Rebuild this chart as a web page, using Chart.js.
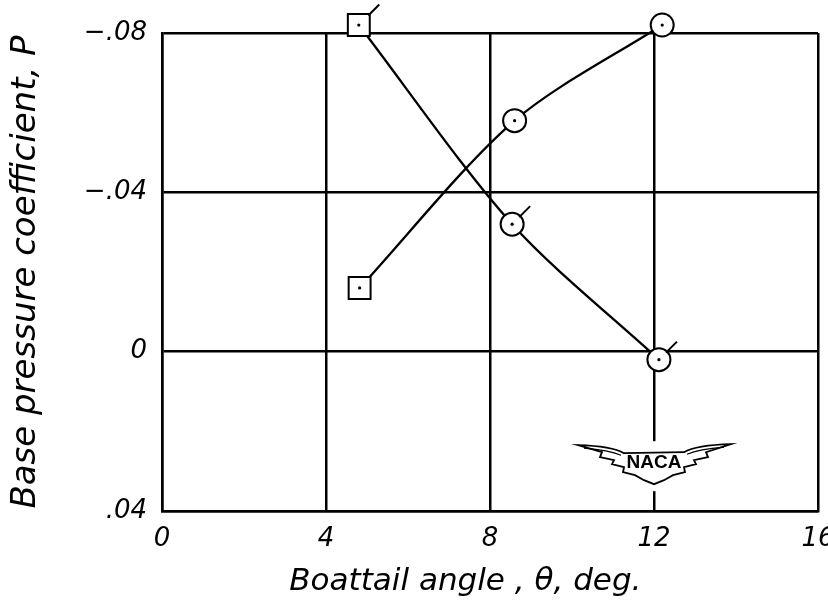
<!DOCTYPE html>
<html>
<head>
<meta charset="utf-8">
<script src="https://cdn.jsdelivr.net/npm/chart.js@4"></script>
<style>
    html, body { margin: 0; padding: 0; background: #ffffff; }
    #chartBox { width: 828px; height: 602px; }
</style>
</head>
<body>
<div id="chartBox"><canvas id="baseChart" width="828" height="602"></canvas></div>
<script>
// Data
const xTickValues = [0, 4, 8, 12, 16];
const yTickValues = [-0.08, -0.04, 0, 0.04];
const yTickLabels = ['\u2212.08', '\u2212.04', '0', '.04'];

// Flagged symbols (square, then circles)
const flaggedAngle = [4.8, 8.54, 12.12];
const flaggedP = [-0.082, -0.032, 0.002];

// Plain symbols
const plainAngle = [4.82, 8.6, 12.2];
const plainP = [-0.016, -0.058, -0.082];

const symbolStyles = ['rect', 'circle', 'circle'];
const symbolSizes = [15.5, 11.5, 11.5];

const inkColor = '#000000';
const tickFont = { family: 'DejaVu Sans', size: 26, style: 'italic' };

function toPoints(xs, ys) {
    return xs.map((x, i) => ({ x: x, y: ys[i] }));
}

// Look up the printed label for a tick value
function yLabelFor(value) {
    const i = yTickValues.findIndex(v => Math.abs(v - value) < 1e-6);
    return i >= 0 ? yTickLabels[i] : '';
}

// Small dot in each symbol, flags on the first series, NACA wings
const markerExtras = {
    id: 'markerExtras',
    afterDatasetsDraw(chart) {
        const ctx = chart.ctx;
        ctx.save();
        ctx.fillStyle = inkColor;
        ctx.strokeStyle = inkColor;
        chart.data.datasets.forEach((ds, di) => {
            const meta = chart.getDatasetMeta(di);
            meta.data.forEach((pt, i) => {
                ctx.beginPath();
                ctx.arc(pt.x, pt.y, 1.6, 0, Math.PI * 2);
                ctx.fill();
                if (ds.flagged) {
                    const r = symbolSizes[i] * 0.72;
                    ctx.lineWidth = 2;
                    ctx.beginPath();
                    ctx.moveTo(pt.x + r * 0.85, pt.y - r * 0.85);
                    ctx.lineTo(pt.x + r * 0.85 + 11, pt.y - r * 0.85 - 11);
                    ctx.stroke();
                }
            });
        });
        drawWings(ctx, chart.scales.x.getPixelForValue(12), chart.scales.y.getPixelForValue(0.028));
        ctx.restore();
    }
};

function drawWings(ctx, cx, cy) {
    ctx.save();
    ctx.translate(cx, cy);
    // gap in the grid line behind the emblem
    ctx.fillStyle = '#ffffff';
    ctx.fillRect(-5, -22, 10, 50);

    ctx.beginPath();
    ctx.moveTo(-76, -18);
    ctx.quadraticCurveTo(-42, -17, -30, -10);
    ctx.lineTo(30, -11);
    ctx.quadraticCurveTo(42, -18, 77, -19);
    const feathers = [[52, -11], [54, -6], [40, -3], [42, 1], [30, 4], [31, 9],
        [19, 12], [10, 17], [0, 21], [-10, 17], [-19, 12], [-31, 9], [-30, 4],
        [-42, 1], [-40, -3], [-54, -6], [-52, -11]];
    feathers.forEach(p => ctx.lineTo(p[0], p[1]));
    ctx.closePath();
    ctx.fillStyle = '#ffffff';
    ctx.fill();
    ctx.lineWidth = 1.8;
    ctx.strokeStyle = inkColor;
    ctx.stroke();

    // second line along the top of the wings
    ctx.lineWidth = 1.2;
    ctx.beginPath();
    ctx.moveTo(-70, -15);
    ctx.quadraticCurveTo(-45, -13, -33, -8);
    ctx.moveTo(70, -16);
    ctx.quadraticCurveTo(45, -14, 33, -9);
    ctx.stroke();

    ctx.fillStyle = inkColor;
    ctx.font = 'bold 19px "Liberation Sans"';
    ctx.textAlign = 'center';
    ctx.textBaseline = 'middle';
    ctx.fillText('NACA', 0, 0);
    ctx.restore();
}

const baseChart = new Chart(document.getElementById('baseChart'), {
    type: 'line',
    data: {
        datasets: [{
            data: toPoints(flaggedAngle, flaggedP),
            flagged: true,
            borderColor: inkColor,
            borderWidth: 2.3,
            tension: 0.3,
            clip: false,
            pointStyle: symbolStyles,
            pointRadius: symbolSizes,
            pointBackgroundColor: '#ffffff',
            pointBorderColor: inkColor,
            pointBorderWidth: 2
        }, {
            data: toPoints(plainAngle, plainP),
            flagged: false,
            borderColor: inkColor,
            borderWidth: 2.3,
            tension: 0.3,
            clip: false,
            pointStyle: symbolStyles,
            pointRadius: symbolSizes,
            pointBackgroundColor: '#ffffff',
            pointBorderColor: inkColor,
            pointBorderWidth: 2
        }]
    },
    options: {
        responsive: false,
        animation: false,
        devicePixelRatio: 1,
        layout: { autoPadding: false, padding: { top: 33, right: 10, bottom: 0, left: 0 } },
        plugins: {
            legend: { display: false },
            tooltip: { enabled: false }
        },
        scales: {
            x: {
                type: 'linear',
                min: xTickValues[0],
                max: xTickValues[xTickValues.length - 1],
                afterBuildTicks(scale) {
                    scale.ticks = xTickValues.map(v => ({ value: v }));
                },
                afterFit(scale) {
                    scale.height = 91;
                    scale.paddingLeft = 0;
                    scale.paddingRight = 0;
                },
                grid: { color: inkColor, lineWidth: 2.5, drawTicks: false },
                border: { display: true, color: inkColor, width: 2.5 },
                ticks: {
                    color: inkColor,
                    font: tickFont,
                    padding: 13,
                    maxRotation: 0,
                    autoSkip: false
                },
                title: {
                    display: true,
                    text: 'Boattail angle , \u03B8, deg.\u00A0\u00A0\u00A0\u00A0\u00A0',
                    color: inkColor,
                    font: { family: 'DejaVu Sans', size: 31, style: 'italic' },
                    padding: { top: 0, bottom: 1 }
                }
            },
            y: {
                type: 'linear',
                reverse: true,
                min: yTickValues[0],
                max: yTickValues[yTickValues.length - 1],
                ticks: {
                    stepSize: 0.04,
                    color: inkColor,
                    font: tickFont,
                    padding: 15,
                    callback: value => yLabelFor(value)
                },
                afterFit(scale) {
                    scale.width = 162;
                    scale.paddingTop = 0;
                    scale.paddingBottom = 0;
                },
                grid: { color: inkColor, lineWidth: 2.5, drawTicks: false },
                border: { display: true, color: inkColor, width: 2.5 },
                title: {
                    display: true,
                    text: 'Base pressure coefficient, P',
                    color: inkColor,
                    font: { family: 'DejaVu Sans', size: 34, style: 'italic' },
                    padding: { top: 6, bottom: 0 }
                }
            }
        }
    },
    plugins: [markerExtras]
});
</script>
</body>
</html>
